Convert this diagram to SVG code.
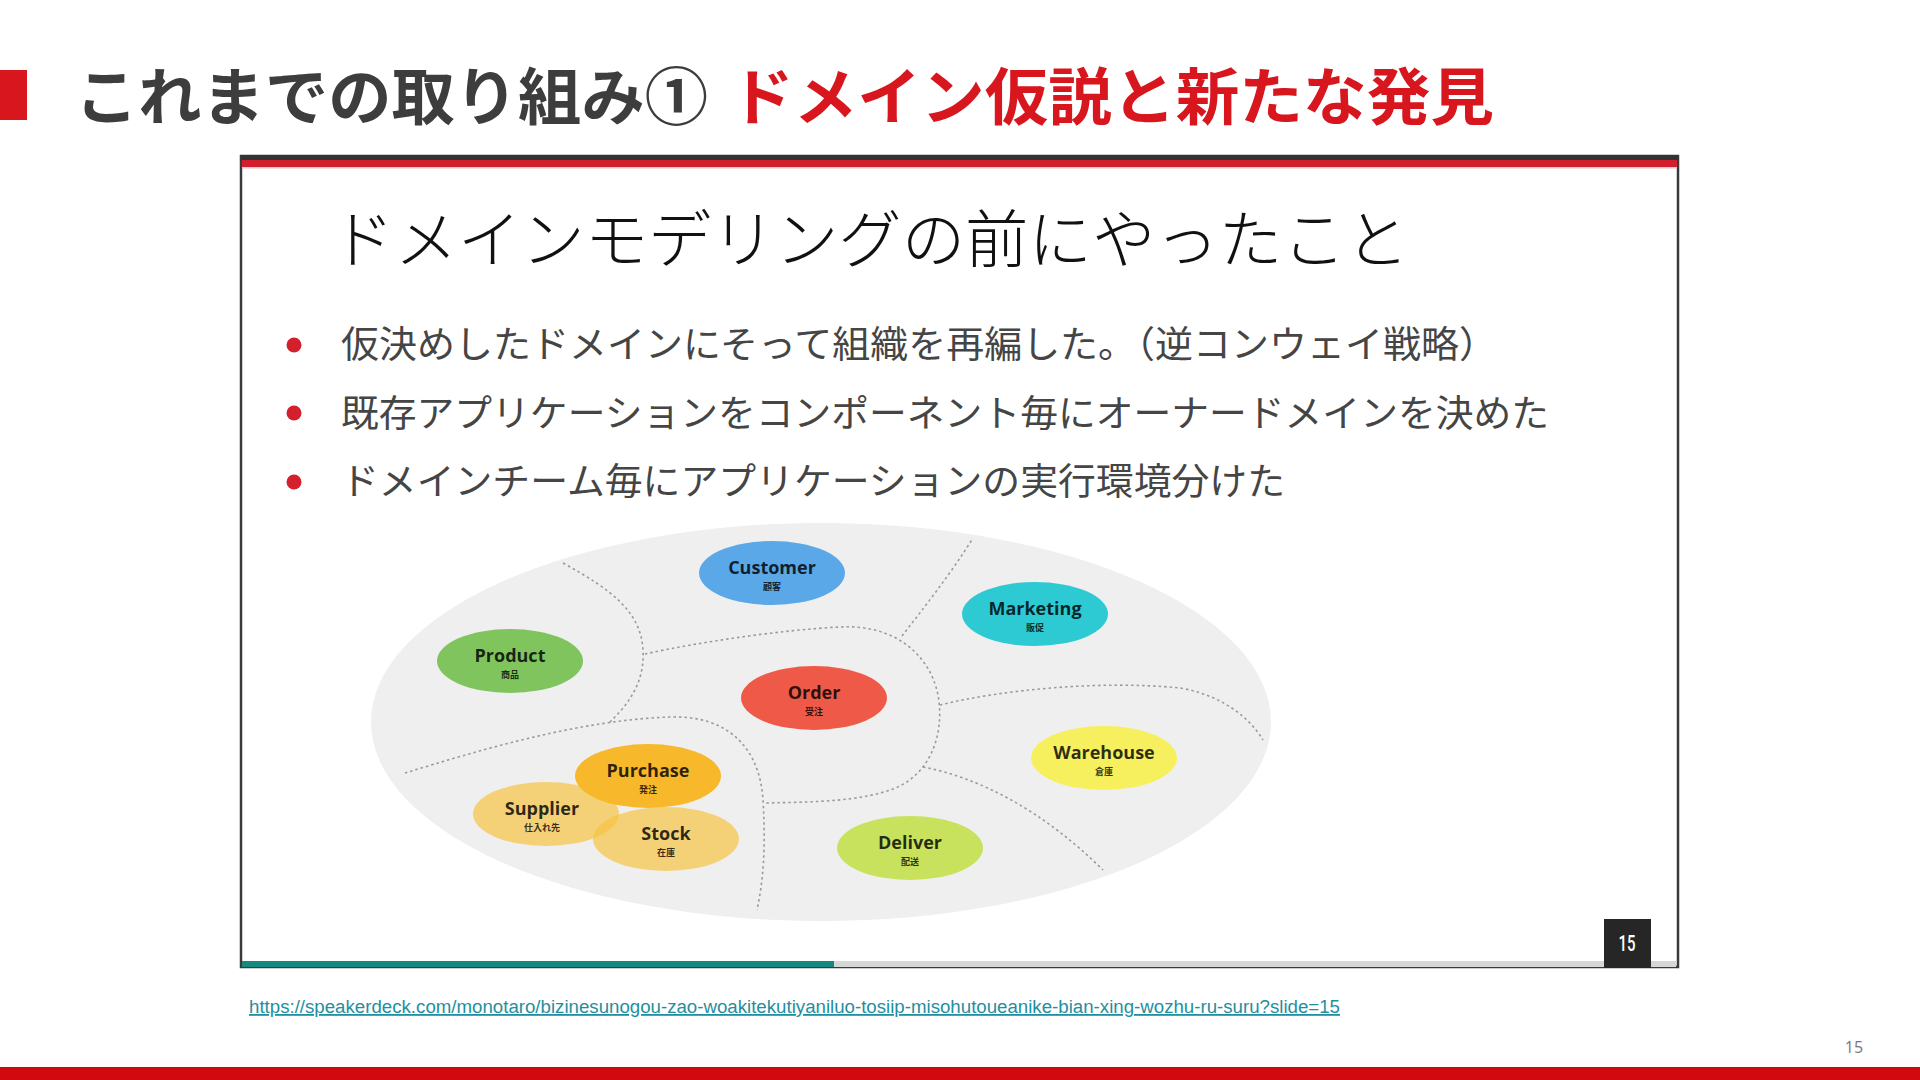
<svg xmlns="http://www.w3.org/2000/svg" width="1920" height="1080" viewBox="0 0 1920 1080">
  <style>
    .jp { font-family: "Noto Sans CJK JP", "Noto Sans", sans-serif; }
    .ttl { font-size: 62px; font-weight: 700; }
    .bul { font-size: 37px; fill: #454545; font-weight: 400; }
    .dot { fill: #d3202c; }
    .name { font-family: "Open Sans", "Noto Sans", sans-serif; font-weight: 700; font-size: 18px; fill: #000; fill-opacity: 0.82; text-anchor: middle; }
    .sub { font-family: "Noto Sans CJK JP", sans-serif; font-weight: 700; font-size: 9px; fill: #000; fill-opacity: 0.8; text-anchor: middle; }
    .div { fill: none; stroke: #9a9a9a; stroke-width: 1.6; stroke-dasharray: 2.5 3; }
    .pg { font-family: "Roboto", "Liberation Sans", sans-serif; font-weight: 500; font-size: 22px; fill: #ffffff; }
  </style>
  <rect width="1920" height="1080" fill="#ffffff"/>

  <!-- header -->
  <g id="header">
    <rect x="0" y="70" width="27" height="50" fill="#d7161e"/>
    <text class="jp ttl" x="75" y="120" fill="#3d3d3d" textLength="633" lengthAdjust="spacingAndGlyphs">これまでの取り組み①</text>
    <text class="jp ttl" x="730" y="120" fill="#d7161e" textLength="764" lengthAdjust="spacingAndGlyphs">ドメイン仮説と新たな発見</text>
  </g>

  <!-- slide frame -->
  <g id="slide">
    <rect x="241" y="156" width="1437" height="811" fill="#ffffff" stroke="#3a3a3a" stroke-width="2.5"/>
    <rect x="241" y="155" width="1437" height="5" fill="#333333"/>
    <rect x="242" y="160" width="1435" height="7" fill="#d21f2d"/>
    <rect x="242" y="167" width="1435" height="1.5" fill="#f2c4c8"/>
    <text class="jp" x="331" y="262" font-size="63" font-weight="300" fill="#111111" textLength="1078" lengthAdjust="spacingAndGlyphs">ドメインモデリングの前にやったこと</text>

    <g id="bullets">
      <circle class="dot" cx="294" cy="345" r="7.5"/>
      <text class="jp bul" x="341" y="358" textLength="1156" lengthAdjust="spacingAndGlyphs">仮決めしたドメインにそって組織を再編した。（逆コンウェイ戦略）</text>
      <circle class="dot" cx="294" cy="413" r="7.5"/>
      <text class="jp bul" x="341" y="427" textLength="1208" lengthAdjust="spacingAndGlyphs">既存アプリケーションをコンポーネント毎にオーナードメインを決めた</text>
      <circle class="dot" cx="294" cy="482" r="7.5"/>
      <text class="jp bul" x="341" y="495" textLength="944" lengthAdjust="spacingAndGlyphs">ドメインチーム毎にアプリケーションの実行環境分けた</text>
    </g>

    <!-- progress bar -->
    <rect x="242" y="961" width="1434" height="6" fill="#d6d6d6"/>
    <rect x="242" y="961" width="592" height="6" fill="#138a80"/>
    <g id="page-box">
      <rect x="1604" y="919" width="47" height="49" fill="#262626"/>
      <text class="pg" x="1618.5" y="951" textLength="17" lengthAdjust="spacingAndGlyphs">15</text>
    </g>
  </g>

  <!-- domain map -->
  <g id="domain-map">
    <ellipse cx="821" cy="722" rx="450" ry="199" fill="#efefef"/>
  </g>

  <g id="connectors">
    <path class="div" d="M 563,563 C 612,590 641,612 643,650 C 645,685 626,706 610,722"/>
    <path class="div" d="M 645,654 C 700,642 780,630 840,627 C 895,624 930,655 938,695 C 945,735 930,775 893,789 C 860,801 820,802 765,803"/>
    <path class="div" d="M 405,773 C 480,750 580,720 670,717 C 730,715 760,750 763,800 C 766,850 763,882 757,910"/>
    <path class="div" d="M 902,636 C 922,610 950,575 973,538"/>
    <path class="div" d="M 940,705 C 1000,690 1100,680 1180,688 C 1222,695 1250,718 1263,740"/>
    <path class="div" d="M 923,767 C 980,778 1042,810 1103,870"/>
  </g>

  <g id="customer">
    <ellipse cx="772" cy="573" rx="73" ry="32" fill="#5aa8e8"/>
    <text class="name" x="772" y="574">Customer</text>
    <text class="sub" x="772" y="590">顧客</text>
  </g>
  <g id="marketing">
    <ellipse cx="1035" cy="614" rx="73" ry="32" fill="#2ecad4"/>
    <text class="name" x="1035" y="615">Marketing</text>
    <text class="sub" x="1035" y="631">販促</text>
  </g>
  <g id="product">
    <ellipse cx="510" cy="661" rx="73" ry="32" fill="#80c45e"/>
    <text class="name" x="510" y="662">Product</text>
    <text class="sub" x="510" y="678">商品</text>
  </g>
  <g id="order">
    <ellipse cx="814" cy="698" rx="73" ry="32" fill="#ee5a47"/>
    <text class="name" x="814" y="699">Order</text>
    <text class="sub" x="814" y="715">受注</text>
  </g>
  <g id="warehouse">
    <ellipse cx="1104" cy="758" rx="73" ry="32" fill="#f7f05e"/>
    <text class="name" x="1104" y="759">Warehouse</text>
    <text class="sub" x="1104" y="775">倉庫</text>
  </g>
  <g id="supplier">
    <ellipse cx="546" cy="814" rx="73" ry="32" fill="#f7c444" fill-opacity="0.7"/>
  </g>
  <g id="stock">
    <ellipse cx="666" cy="839" rx="73" ry="32" fill="#f7c444" fill-opacity="0.7"/>
  </g>
  <g id="purchase">
    <ellipse cx="648" cy="776" rx="73" ry="32" fill="#f7b92b"/>
    <text class="name" x="648" y="777">Purchase</text>
    <text class="sub" x="648" y="793">発注</text>
  </g>
  <g id="supplier-label">
    <text class="name" x="542" y="815">Supplier</text>
    <text class="sub" x="542" y="831">仕入れ先</text>
  </g>
  <g id="stock-label">
    <text class="name" x="666" y="840">Stock</text>
    <text class="sub" x="666" y="856">在庫</text>
  </g>
  <g id="deliver">
    <ellipse cx="910" cy="848" rx="73" ry="32" fill="#c8e25e"/>
    <text class="name" x="910" y="849">Deliver</text>
    <text class="sub" x="910" y="865">配送</text>
  </g>

  <!-- footer -->
  <g id="footer">
    <text x="249" y="1013" font-family="Liberation Sans, Arial, sans-serif" font-size="18" fill="#1f8f9f" text-decoration="underline" textLength="1091" lengthAdjust="spacingAndGlyphs">https://speakerdeck.com/monotaro/bizinesunogou-zao-woakitekutiyaniluo-tosiip-misohutoueanike-bian-xing-wozhu-ru-suru?slide=15</text>
    <text x="1854" y="1053" font-family="Open Sans, sans-serif" font-size="16" fill="#777777" text-anchor="middle">15</text>
    <rect x="0" y="1067" width="1920" height="13" fill="#d20a10"/>
  </g>
</svg>
